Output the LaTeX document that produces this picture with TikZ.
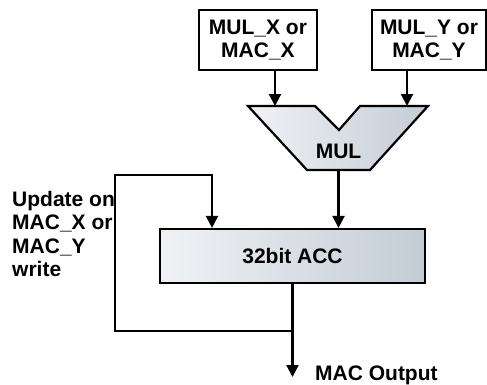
\documentclass[tikz,border=0pt]{standalone}
\usepackage{fontspec}
\setmainfont{Liberation Sans}
\usetikzlibrary{arrows.meta}
\definecolor{shadelight}{HTML}{F0F2F5}
\definecolor{shadedark}{HTML}{C3CCD5}
\tikzset{
	wire/.style={line width=2.2pt},
	arr/.style={wire, -{Triangle[width=12pt,length=12pt]}},
	regbox/.style={draw, line width=2.2pt, fill=white, align=center, inner sep=0pt},
	shadebox/.style={draw, line width=2.2pt, left color=shadelight, right color=shadedark},
	txt/.style={font=\fontsize{21}{23.5}\selectfont\bfseries}
}
\begin{document}
\begin{tikzpicture}[x=1pt,y=1pt]
	\useasboundingbox (0,0) rectangle (487,384);
	% operand registers
	\node [regbox, txt, minimum width=118pt, minimum height=60pt] (regx) at (258,344) {MUL\_X or\\MAC\_X};
	\node [regbox, txt, minimum width=114pt, minimum height=60pt] (regy) at (429,344) {MUL\_Y or\\MAC\_Y};
	% multiplier
	\draw [shadebox, line join=miter] (248,278) -- (315,278) -- (339,254) -- (360,278) -- (428,278) -- (370,214) -- (307,214) -- cycle;
	\node [txt] (mul) at (338.5,233) {MUL};
	\coordinate (mulinx) at (275,278);
	\coordinate (muliny) at (407,278);
	\coordinate (mulout) at (338.5,214);
	% accumulator
	\node [shadebox, txt, minimum width=265pt, minimum height=54pt] (acc) at (292.5,128) {32bit ACC};
	\coordinate (fbin) at (212,155);
	\coordinate (looptl) at (115,209);
	\coordinate (loopbl) at (115,53);
	\coordinate (macout) at (292.5,7);
	\draw [arr] (regx.south -| mulinx) -- (mulinx);
	\draw [arr] (regy.south -| muliny) -- (muliny);
	\draw [arr] (mulout) -- (acc.north -| mulout);
	% feedback loop
	\draw [arr] (acc.south |- loopbl) -- (loopbl) -- (looptl) -| (acc.north -| fbin);
	\draw [arr] (acc.south) -- (macout);
	\node [txt, anchor=base west, inner sep=0pt] (outlabel) at (315,4) {MAC Output};
	\node [txt, anchor=north west, align=left, inner sep=0pt] (updlabel) at (12,193) {Update on\\MAC\_X or\\MAC\_Y\\write};
\end{tikzpicture}
\end{document}
